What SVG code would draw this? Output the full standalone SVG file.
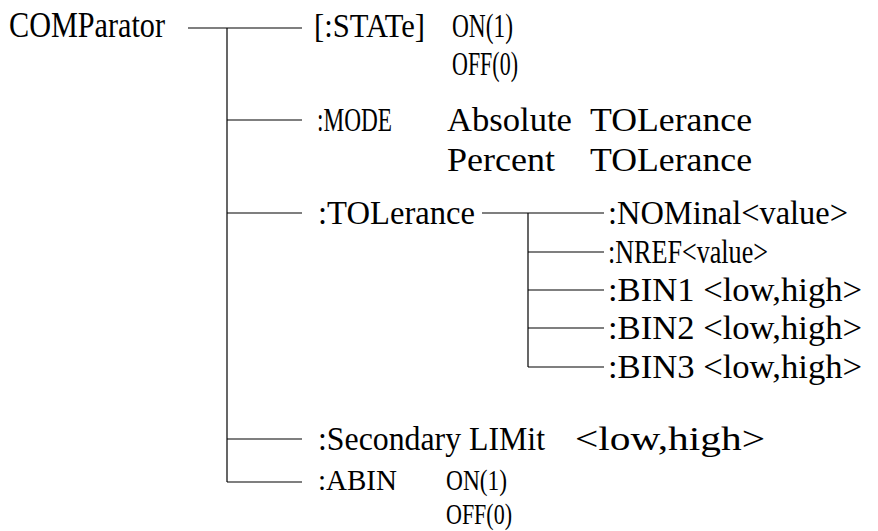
<svg xmlns="http://www.w3.org/2000/svg" width="878" height="531" viewBox="0 0 878 531">
<style>
text{font-family:"Liberation Serif","DejaVu Serif",serif;font-size:33px;fill:#000}
.big{font-size:35px}
.sm{font-size:30px}
.c line{stroke:#000;stroke-width:1.2;fill:none}
</style>
<rect width="878" height="531" fill="#fff"/>
<g class="c" id="connectors">
<line x1="188" y1="28" x2="302" y2="28"/>
<line x1="227" y1="28" x2="227" y2="482"/>
<line x1="227" y1="120" x2="302" y2="120"/>
<line x1="227" y1="213" x2="302" y2="213"/>
<line x1="227" y1="439" x2="302" y2="439"/>
<line x1="227" y1="482" x2="302" y2="482"/>
<line x1="482" y1="213" x2="604" y2="213"/>
<line x1="528" y1="213" x2="528" y2="367"/>
<line x1="528" y1="252" x2="604" y2="252"/>
<line x1="528" y1="290" x2="604" y2="290"/>
<line x1="528" y1="328" x2="604" y2="328"/>
<line x1="528" y1="367" x2="604" y2="367"/>
</g>
<g id="comparator"><text class="big" x="9" y="37" textLength="156" lengthAdjust="spacingAndGlyphs">COMParator</text></g>
<g id="state">
<text x="314" y="37" textLength="111" lengthAdjust="spacingAndGlyphs">[:STATe]</text>
<text x="452" y="37" textLength="61" lengthAdjust="spacingAndGlyphs">ON(1)</text>
<text x="452" y="75" textLength="66" lengthAdjust="spacingAndGlyphs">OFF(0)</text>
</g>
<g id="mode">
<text x="317" y="131" textLength="75" lengthAdjust="spacingAndGlyphs">:MODE</text>
<text x="447" y="131" textLength="125" lengthAdjust="spacingAndGlyphs">Absolute</text>
<text x="590" y="131" textLength="162" lengthAdjust="spacingAndGlyphs">TOLerance</text>
<text x="447" y="171" textLength="108" lengthAdjust="spacingAndGlyphs">Percent</text>
<text x="590" y="171" textLength="162" lengthAdjust="spacingAndGlyphs">TOLerance</text>
</g>
<g id="tolerance"><text x="318" y="224" textLength="157" lengthAdjust="spacingAndGlyphs">:TOLerance</text></g>
<g id="nominal"><text x="608" y="224" textLength="240" lengthAdjust="spacingAndGlyphs">:NOMinal&lt;value&gt;</text></g>
<g id="nref"><text x="608" y="263" textLength="160" lengthAdjust="spacingAndGlyphs">:NREF&lt;value&gt;</text></g>
<g id="bin1"><text x="608" y="301" textLength="254" lengthAdjust="spacingAndGlyphs">:BIN1 &lt;low,high&gt;</text></g>
<g id="bin2"><text x="608" y="339" textLength="254" lengthAdjust="spacingAndGlyphs">:BIN2 &lt;low,high&gt;</text></g>
<g id="bin3"><text x="608" y="378" textLength="254" lengthAdjust="spacingAndGlyphs">:BIN3 &lt;low,high&gt;</text></g>
<g id="secondary">
<text x="318" y="450" textLength="227" lengthAdjust="spacingAndGlyphs">:Secondary LIMit</text>
<text x="575" y="450" textLength="190" lengthAdjust="spacingAndGlyphs">&lt;low,high&gt;</text>
</g>
<g id="abin">
<text class="sm" x="318" y="490" textLength="79" lengthAdjust="spacingAndGlyphs">:ABIN</text>
<text class="sm" x="446" y="490" textLength="61" lengthAdjust="spacingAndGlyphs">ON(1)</text>
<text class="sm" x="446" y="524" textLength="66" lengthAdjust="spacingAndGlyphs">OFF(0)</text>
</g>
</svg>
